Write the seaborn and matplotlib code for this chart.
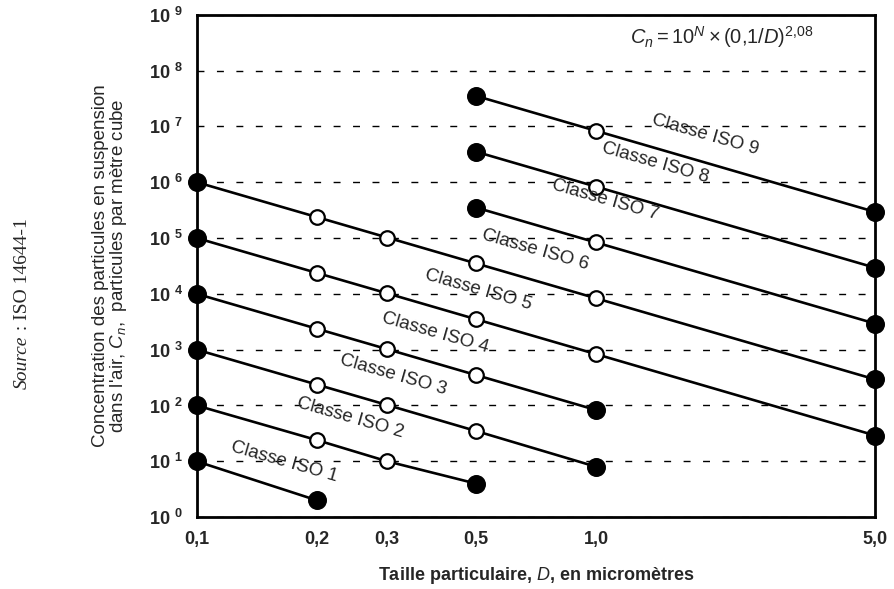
import matplotlib
matplotlib.use('Agg')
import matplotlib.pyplot as plt
import numpy as np
import pandas as pd
import seaborn as sns

# valeurs (D en micrometres, Cn en particules/m3)
classes = [1, 2, 3, 4, 5, 6, 7, 8, 9]
tailles = {
    1: [0.1, 0.2],
    2: [0.1, 0.2, 0.3, 0.5],
    3: [0.1, 0.2, 0.3, 0.5, 1.0],
    4: [0.1, 0.2, 0.3, 0.5, 1.0],
    5: [0.1, 0.2, 0.3, 0.5, 1.0, 5.0],
    6: [0.1, 0.2, 0.3, 0.5, 1.0, 5.0],
    7: [0.5, 1.0, 5.0],
    8: [0.5, 1.0, 5.0],
    9: [0.5, 1.0, 5.0],
}
concentrations = {
    1: [10, 2],
    2: [100, 24, 10, 4],
    3: [1000, 237, 102, 35, 8],
    4: [10000, 2370, 1020, 352, 83],
    5: [100000, 23700, 10200, 3520, 832, 29],
    6: [1000000, 237000, 102000, 35200, 8320, 293],
    7: [352000, 83200, 2930],
    8: [3520000, 832000, 29300],
    9: [35200000, 8320000, 293000],
}
# positions des etiquettes (D, Cn)
label_pos = {
    1: (0.166, 9.7), 2: (0.242, 59), 3: (0.310, 351), 4: (0.395, 1983),
    5: (0.506, 11700), 6: (0.703, 61000), 7: (1.053, 480000),
    8: (1.406, 2.21e6), 9: (1.876, 7.0e6),
}
x_ticks = [0.1, 0.2, 0.3, 0.5, 1.0, 5.0]
x_ticklabels = ['0,1', '0,2', '0,3', '0,5', '1,0', '5,0']
decades = list(range(0, 10))

rows = []
for c in classes:
    n = len(tailles[c])
    for i, (d, v) in enumerate(zip(tailles[c], concentrations[c])):
        rows.append({'classe': c, 'D': d, 'Cn': v, 'plein': i == 0 or i == n - 1})
df = pd.DataFrame(rows)

sns.set_style('white')
plt.rcParams['font.family'] = ['Liberation Sans', 'DejaVu Sans']
plt.rcParams['mathtext.fontset'] = 'custom'
plt.rcParams['mathtext.rm'] = 'Liberation Sans'
plt.rcParams['mathtext.it'] = 'Liberation Sans:italic'
plt.rcParams['mathtext.bf'] = 'Liberation Sans:bold'

fig = plt.figure(figsize=(8.94, 5.89), dpi=100)
ax = fig.add_axes([0.220, 0.122, 0.759, 0.853])

sns.lineplot(data=df, x='D', y='Cn', units='classe', estimator=None,
             color='black', linewidth=1.9, ax=ax, zorder=3)
sns.scatterplot(data=df[df['plein']], x='D', y='Cn', color='black',
                edgecolor='black', s=160, ax=ax, zorder=5, clip_on=False)
sns.scatterplot(data=df[~df['plein']], x='D', y='Cn', color='white',
                edgecolor='black', linewidth=1.6, s=110, ax=ax, zorder=5)

ax.set_xscale('log')
ax.set_yscale('log')
ax.set_xlim(0.1, 5.0)
ax.set_ylim(1, 1e9)

ax.set_xticks(x_ticks)
ax.set_xticklabels(x_ticklabels, fontsize=13, fontweight='bold')
ax.xaxis.set_minor_locator(matplotlib.ticker.NullLocator())
ax.set_yticks([10.0 ** k for k in decades])
ax.set_yticklabels([r'$\mathbf{10\ ^{%d}}$' % k for k in decades], fontsize=13)
ax.yaxis.set_minor_locator(matplotlib.ticker.NullLocator())
ax.tick_params(length=0, pad=10)

ax.grid(axis='y', which='major', color='black', linestyle=(0, (5, 9)), linewidth=1.0)
ax.grid(axis='x', visible=False)
for s in ax.spines.values():
    s.set_linewidth(2.0)
    s.set_color('black')

for c in classes:
    x, y = label_pos[c]
    ax.text(x, y, 'Classe ISO %d' % c, rotation=-16, ha='center', va='center',
            fontsize=13.5, zorder=6)

ax.text(0.774, 0.956, r'$C_n = 10^N \times (0{,}1/D)^{2{,}08}$', transform=ax.transAxes,
        ha='center', va='center', fontsize=14.5)

ax.set_xlabel(r"Taille particulaire, $D$, en micromètres", fontsize=13,
              fontweight='bold', labelpad=12)
ax.set_ylabel("Concentration des particules en suspension\n"
              r"dans l'air, $C_n$,  particules par mètre cube", fontsize=13.5,
              labelpad=14, linespacing=0.95)

# source : "Source" en italique puis le reste, bout a bout
t1 = fig.text(0.025, 0.34, 'Source', rotation=90, rotation_mode='anchor',
              ha='left', va='center', fontsize=14, family='Liberation Serif',
              style='italic')
fig.canvas.draw()
bb = t1.get_window_extent()
fig.text(0.025, bb.y1 / fig.bbox.height, ' : ISO 14644-1', rotation=90,
         rotation_mode='anchor', ha='left', va='center', fontsize=14,
         family='Liberation Serif')

fig.savefig('out.png', dpi=100)
